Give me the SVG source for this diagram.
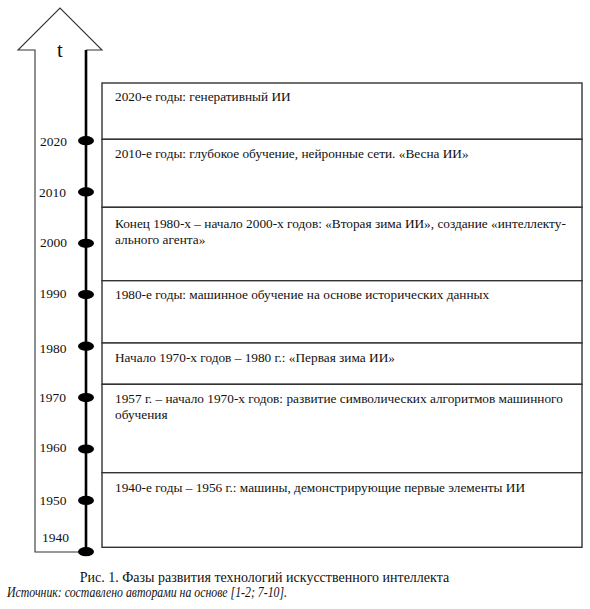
<svg xmlns="http://www.w3.org/2000/svg" width="590" height="609" viewBox="0 0 590 609">
<style>
.bx{fill:#fff;stroke:#333;stroke-width:1.4}
.tx{font-family:"Liberation Serif","Times New Roman",serif;font-size:13.3px;fill:#111}
.yr{font-family:"Liberation Serif","Times New Roman",serif;font-size:13.5px;fill:#111;text-anchor:middle}
.dot{fill:#000}
.cap{font-family:"Liberation Serif","Times New Roman",serif;font-size:14px;fill:#111}
</style>
<rect width="590" height="609" fill="#fff"/>
<g id="arrow">
<polyline points="86,50 102,50 60,8 18,50 35,50 35,552 86,552" fill="none" stroke="#333" stroke-width="1.1"/>
<text x="60" y="57" font-family="Liberation Serif, Times New Roman, serif" font-size="21" text-anchor="middle" fill="#111">t</text>
</g>
<g id="connectors">
<line x1="86" y1="50" x2="86" y2="552" stroke="#000" stroke-width="2.6"/>
</g>
<g id="ticks">
<ellipse class="dot" cx="86" cy="140.7" rx="8" ry="4.6"/>
<ellipse class="dot" cx="86" cy="191.9" rx="8" ry="4.6"/>
<ellipse class="dot" cx="86" cy="243.3" rx="8" ry="4.6"/>
<ellipse class="dot" cx="86" cy="294.6" rx="8" ry="4.6"/>
<ellipse class="dot" cx="86" cy="346.2" rx="8" ry="4.6"/>
<ellipse class="dot" cx="86" cy="397.6" rx="8" ry="4.6"/>
<ellipse class="dot" cx="86" cy="449" rx="8" ry="4.6"/>
<ellipse class="dot" cx="86" cy="500.4" rx="8" ry="4.6"/>
<ellipse class="dot" cx="86" cy="551.7" rx="8" ry="4.6"/>
<text class="yr" x="53.5" y="146">2020</text>
<text class="yr" x="52.5" y="196.5">2010</text>
<text class="yr" x="53.5" y="247">2000</text>
<text class="yr" x="53" y="298">1990</text>
<text class="yr" x="53" y="353">1980</text>
<text class="yr" x="52.5" y="402">1970</text>
<text class="yr" x="53" y="452">1960</text>
<text class="yr" x="53" y="505">1950</text>
<text class="yr" x="55.5" y="542">1940</text>
</g>
<g id="p2020"><rect class="bx" x="102" y="83" width="480" height="56.3"/><text class="tx" x="115" y="101">2020-е годы: генеративный ИИ</text></g>
<g id="p2010"><rect class="bx" x="102" y="139.3" width="480" height="68"/><text class="tx" x="115" y="158">2010-е годы: глубокое обучение, нейронные сети. «Весна ИИ»</text></g>
<g id="p1990s"><rect class="bx" x="102" y="207.3" width="480" height="73.4"/><text class="tx" x="115" y="228">Конец 1980-х – начало 2000-х годов: «Вторая зима ИИ», создание «интеллекту-</text><text class="tx" x="115" y="243.5">ального агента»</text></g>
<g id="p1980"><rect class="bx" x="102" y="280.7" width="480" height="62.3"/><text class="tx" x="115" y="298.5">1980-е годы: машинное обучение на основе исторических данных</text></g>
<g id="p1970"><rect class="bx" x="102" y="343" width="480" height="41.3"/><text class="tx" x="115" y="361.5">Начало 1970-х годов – 1980 г.: «Первая зима ИИ»</text></g>
<g id="p1957"><rect class="bx" x="102" y="384.3" width="480" height="88.4"/><text class="tx" x="115" y="403">1957 г. – начало 1970-х годов: развитие символических алгоритмов машинного</text><text class="tx" x="115" y="418.5">обучения</text></g>
<g id="p1940"><rect class="bx" x="102" y="472.7" width="480" height="74.6"/><text class="tx" x="115" y="491.5">1940-е годы – 1956 г.: машины, демонстрирующие первые элементы ИИ</text></g>
<g id="caption">
<text class="cap" x="264.5" y="582" text-anchor="middle">Рис. 1. Фазы развития технологий искусственного интеллекта</text>
<text class="cap" x="7" y="597" font-style="italic" font-size="12" textLength="280" lengthAdjust="spacingAndGlyphs">Источник: составлено авторами на основе [1-2; 7-10].</text>
</g>
</svg>
